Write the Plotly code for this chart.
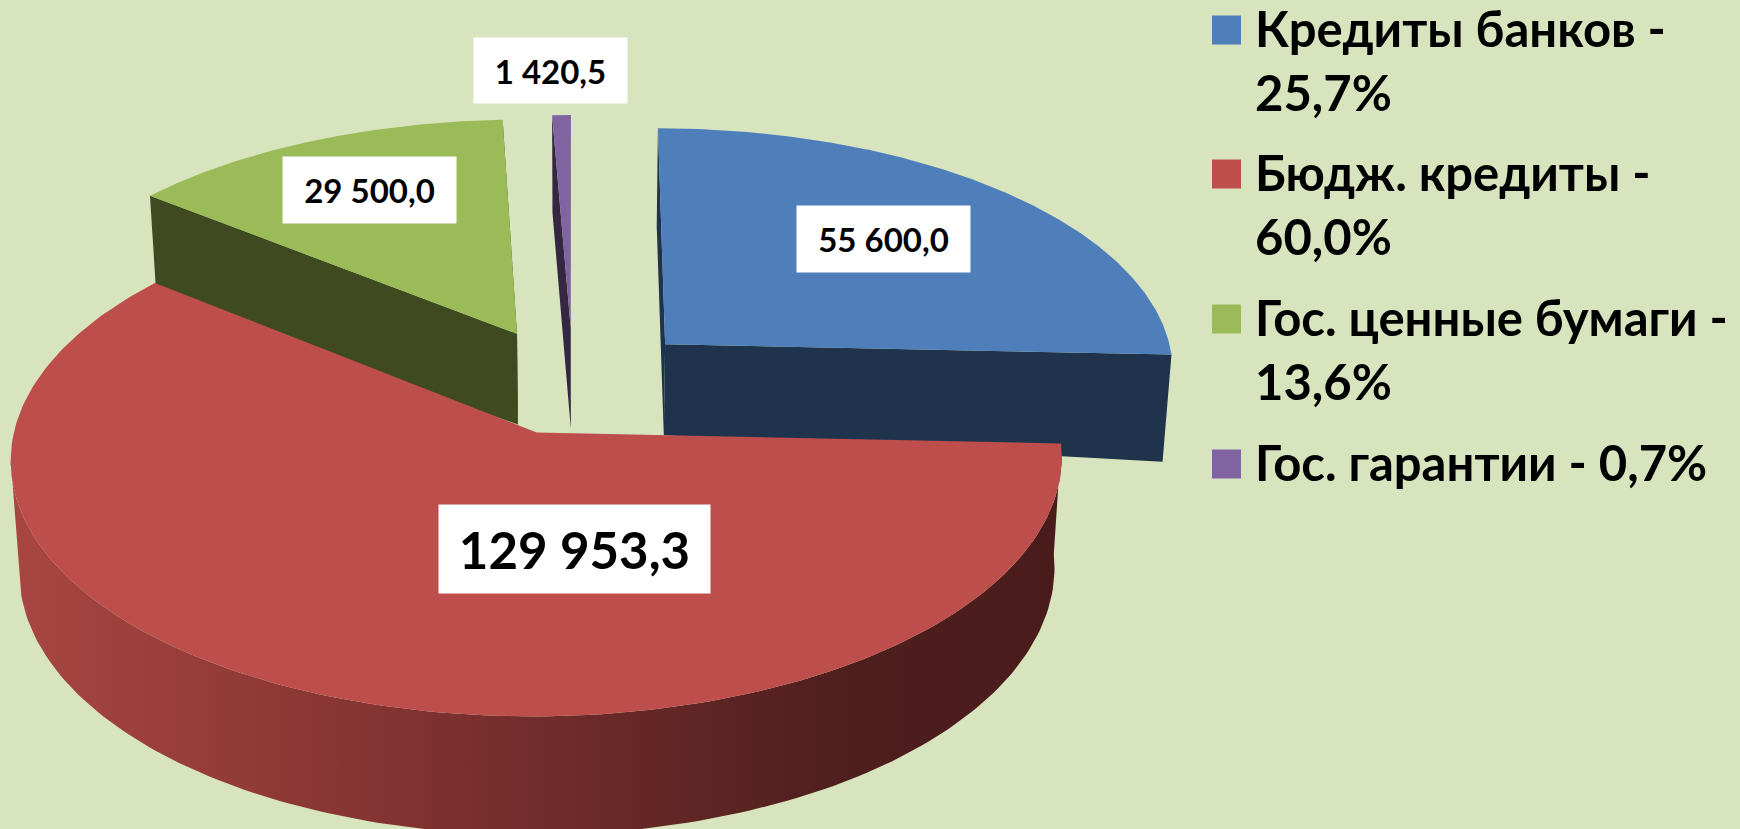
import numpy as np
import plotly.graph_objects as go

categories = ["Кредиты банков", "Бюдж. кредиты", "Гос. ценные бумаги", "Гос. гарантии"]
values = [55600.0, 129953.3, 29500.0, 1420.5]
value_labels = ["55 600,0", "129 953,3", "29 500,0", "1 420,5"]
legend_lines = [["Кредиты банков -", "25,7%"], ["Бюдж. кредиты -", "60,0%"],
                ["Гос. ценные бумаги -", "13,6%"], ["Гос. гарантии - 0,7%"]]
top_colors = ["#4e7fbb", "#bd4e4b", "#9bbb59", "#8064a2"]
wall_colors = ["#1f334d", "#4a1c1c", "#404a20", "#332741"]
BG = "#d8e4bd"

# projection of the tilted, exploded disc into the page
CX, CY, RX, RY = 577.0, 381.0, 512.0, 244.6
K, EXPLODE = 0.10, 0.22
SLICE_NUDGE = [8, 0, -10, -4]
APEX_DEPTH_NUDGE = [0, 0, 0, 10]
FONT = "Lato"


def project(gx, gy, r, nudge):
    w = 1 + K * gy
    sx = CX + RX * gx / w + nudge
    sy = CY - RY * gy / w
    depth = (92 + 16 * r) * (1 - 0.08 * gy)
    bx = CX + (sx - CX) * 0.985
    return sx, sy, bx, sy + depth


def ground(theta, r, mid):
    return (EXPLODE * np.sin(mid) + r * np.sin(theta),
            EXPLODE * np.cos(mid) + r * np.cos(theta))


fig = go.Figure()
total = sum(values)
ends = np.cumsum(values) / total * 2 * np.pi
starts = np.concatenate([[0], ends[:-1]])
mids = (starts + ends) / 2


def polygon(xs, ys, color, **kw):
    fig.add_trace(go.Scatter(x=xs, y=ys, mode="lines", fill="toself", fillcolor=color,
                             line=dict(width=0, color=color), hoverinfo="skip",
                             showlegend=False, **kw))


def slice_geometry(i):
    th = np.linspace(starts[i], ends[i], 200)
    gx, gy = ground(th, 1.0, mids[i])
    sx, sy, bx, by = project(gx, gy, 1.0, SLICE_NUDGE[i])
    ax, ay = ground(0.0, 0.0, mids[i])
    asx, asy, abx, aby = project(ax, ay, 0.0, SLICE_NUDGE[i])
    return sx, sy, bx, by, asx, asy, abx, aby + APEX_DEPTH_NUDGE[i]


order = [0, 2, 3, 1]
for i in order:
    sx, sy, bx, by, asx, asy, abx, aby = slice_geometry(i)
    if i == 1:
        # outer wall only up to the leftmost point of the rim
        cut = int(np.argmin(sx)) + 1
        polygon(list(sx[:cut]) + list(bx[:cut][::-1]), list(sy[:cut]) + list(by[:cut][::-1]), wall_colors[i],
                fillgradient=dict(type="horizontal", colorscale=[
                    [0, "#a84643"], [0.28, "#8c3735"], [0.55, "#6b2a29"],
                    [0.8, "#4e1e1d"], [1, "#491c1b"]]))
    else:
        # the two straight cut walls of the slice
        polygon([sx[0], asx, abx, bx[0]], [sy[0], asy, aby, by[0]], wall_colors[i])
        polygon([sx[-1], asx, abx, bx[-1]], [sy[-1], asy, aby, by[-1]], wall_colors[i])
    polygon(list(sx) + [asx], list(sy) + [asy], top_colors[i])

# value labels
label_boxes = [(883, 239, 173, 66, 33), (574, 549, 271, 88, 51), (369, 190, 173, 66, 33), (550, 70, 153, 65, 33)]
annotations = []
for text, (x, y, w, h, fs) in zip(value_labels, label_boxes):
    annotations.append(dict(x=x, y=y, xref="x", yref="y", text=f"<b>{text}</b>", showarrow=False,
                            width=w, height=h, bgcolor="white", align="center", valign="middle",
                            borderpad=0, font=dict(family=FONT, size=fs, color="black")))

# legend
swatch_y = [30, 174, 319, 464]
fig.add_trace(go.Scatter(x=[1226.5] * 4, y=swatch_y, mode="markers", hoverinfo="skip", showlegend=False,
                         marker=dict(symbol="square", size=29, color=top_colors, line=dict(width=0))))
for y0, lines in zip(swatch_y, legend_lines):
    for j, line in enumerate(lines):
        annotations.append(dict(x=1253, y=y0 - 2 + j * 64, xref="x", yref="y", text=f"<b>{line}</b>",
                                showarrow=False, xanchor="left", yanchor="middle", align="left",
                                font=dict(family=FONT, size=49, color="black")))

fig.update_layout(
    width=1740, height=829, margin=dict(l=0, r=0, t=0, b=0),
    paper_bgcolor=BG, plot_bgcolor=BG, showlegend=False, annotations=annotations,
    xaxis=dict(range=[0, 1740], visible=False, fixedrange=True),
    yaxis=dict(range=[829, 0], visible=False, fixedrange=True),
)
fig.write_html("out.html", config=dict(displayModeBar=False),
               post_script="document.body.style.margin='0';document.documentElement.style.overflow='hidden';")
